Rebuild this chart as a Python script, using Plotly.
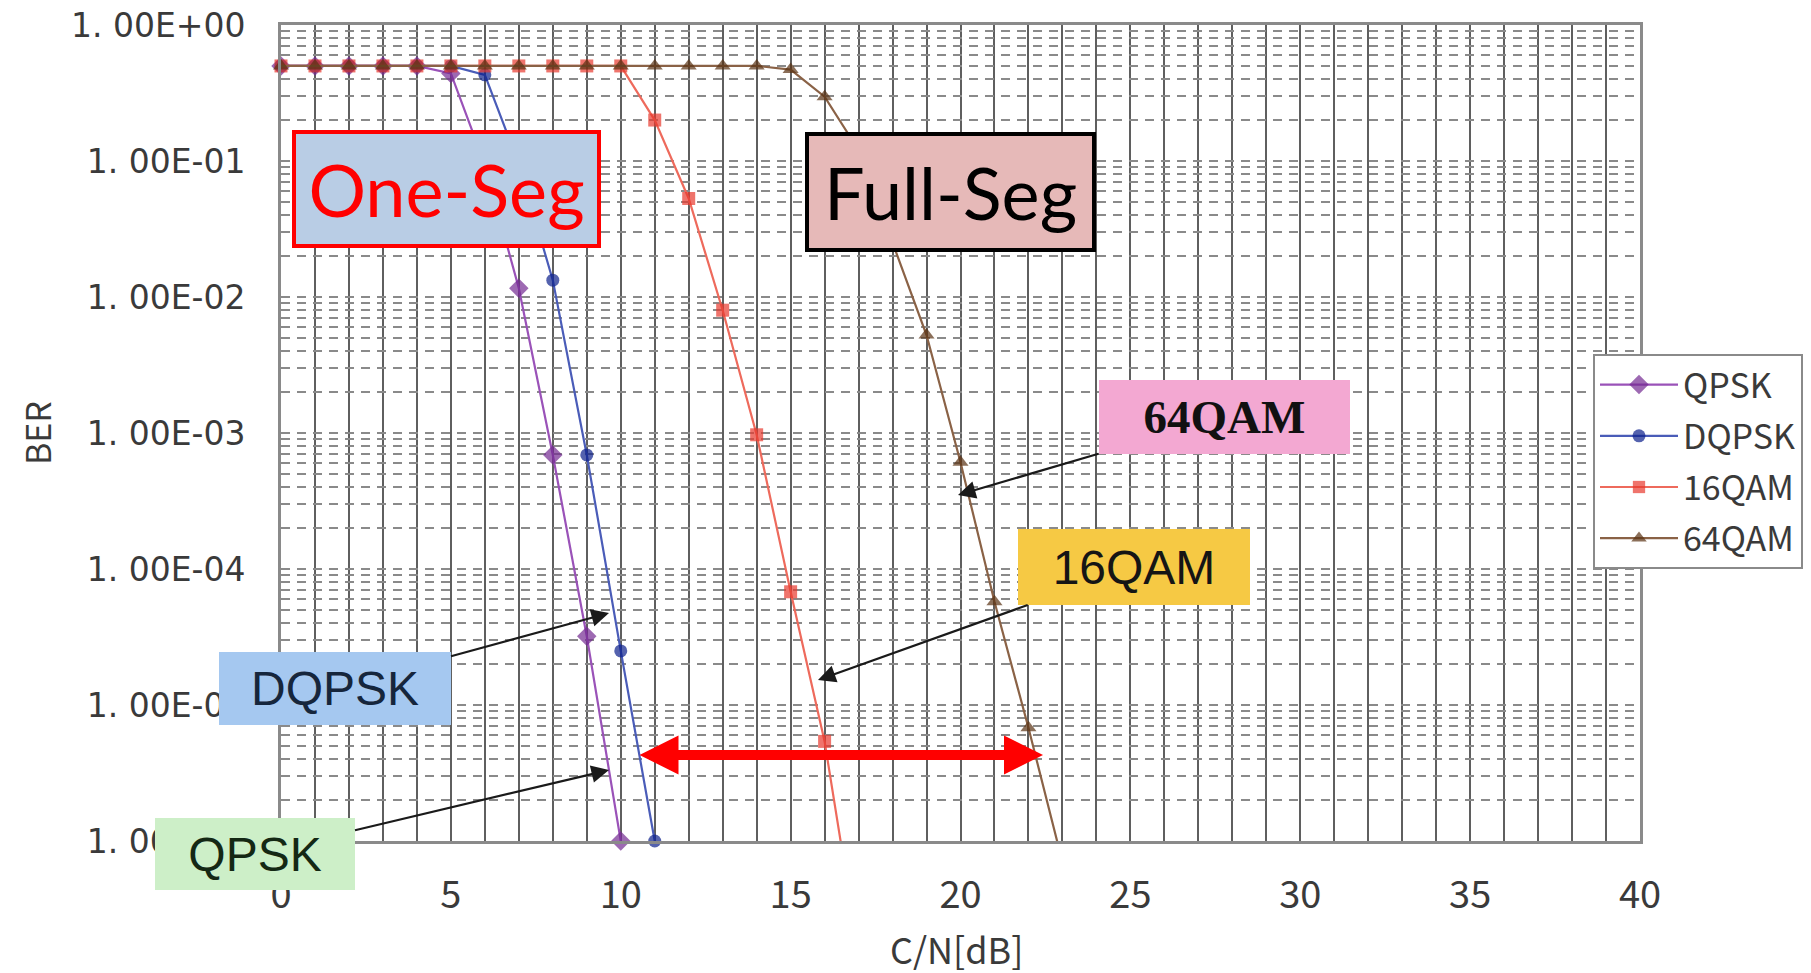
import plotly.graph_objects as go

# ---------------- data ----------------
qpsk_x = [0, 1, 2, 3, 4, 5, 6, 7, 8, 9, 10]
qpsk_ber = [0.5, 0.5, 0.5, 0.5, 0.5, 0.44, 0.094, 0.0116, 6.9e-4, 3.2e-5, 1.0e-6]

dqpsk_x = [0, 1, 2, 3, 4, 5, 6, 7, 8, 9, 10, 11]
dqpsk_ber = [0.5, 0.5, 0.5, 0.5, 0.5, 0.5, 0.43, 0.095, 0.0133, 6.9e-4, 2.5e-5, 1.0e-6]

qam16_x = [0, 1, 2, 3, 4, 5, 6, 7, 8, 9, 10, 11, 12, 13, 14, 15, 16, 17]
qam16_ber = [0.5, 0.5, 0.5, 0.5, 0.5, 0.5, 0.5, 0.5, 0.5, 0.5, 0.5,
             0.20, 0.053, 8.0e-3, 9.7e-4, 6.8e-5, 5.4e-6, 1.5e-7]

qam64_x = [0, 1, 2, 3, 4, 5, 6, 7, 8, 9, 10, 11, 12, 13, 14, 15, 16, 17, 18, 19, 20, 21, 22, 23]
qam64_ber = [0.5, 0.5, 0.5, 0.5, 0.5, 0.5, 0.5, 0.5, 0.5, 0.5, 0.5, 0.5, 0.5, 0.5, 0.5,
             0.47, 0.297, 0.12, 0.025, 5.25e-3, 6.1e-4, 5.75e-5, 6.8e-6, 7.0e-7]

series_names = ["QPSK", "DQPSK", "16QAM", "64QAM"]

x_tick_vals = [0, 5, 10, 15, 20, 25, 30, 35, 40]
x_tick_labels = ["0", "5", "10", "15", "20", "25", "30", "35", "40"]

y_decades = [1e-6, 1e-5, 1e-4, 1e-3, 1e-2, 1e-1, 1e0]
y_tick_labels = ["1. 00E-06", "1. 00E-05", "1. 00E-04", "1. 00E-03",
                 "1. 00E-02", "1. 00E-01", "1. 00E+00"]

x_title = "C/N[dB]"
y_title = "BER"

# ---------------- styling ----------------
GOTHIC = "Noto Sans CJK JP"
line_colors = ["#9a52b8", "#4a5cb8", "#ee6a5c", "#8a6246"]
marker_colors = ["#742a92", "#0b1f8c", "#e8392e", "#5a3212"]
marker_symbols = ["diamond", "circle", "square", "triangle-up"]
marker_sizes = [15, 13, 13, 14]

xs = [qpsk_x, dqpsk_x, qam16_x, qam64_x]
ys = [qpsk_ber, dqpsk_ber, qam16_ber, qam64_ber]
Y_MIN = y_decades[0]

fig = go.Figure()
for i, name in enumerate(series_names):
    # markers are not clipped at the frame; points below the axis floor get no marker
    sizes = [marker_sizes[i] if v >= Y_MIN * 0.999 else 0 for v in ys[i]]
    fig.add_trace(go.Scatter(
        x=xs[i], y=ys[i], name=name, mode="lines+markers",
        legendgroup="g%d" % i,
        line=dict(color=line_colors[i], width=2.2),
        marker=dict(symbol=marker_symbols[i], size=sizes,
                    color=marker_colors[i], line=dict(width=0)),
        cliponaxis=False,
    ))

# y ticks: a dashed grid line at every 1..9 x 10^n, labels at the decades
y_tick_vals, y_tick_text = [], []
for k, d in enumerate(y_decades):
    if k == len(y_decades) - 1:
        y_tick_vals.append(d)
        y_tick_text.append(y_tick_labels[k])
        break
    for m in range(1, 10):
        y_tick_vals.append(m * d)
        y_tick_text.append(y_tick_labels[k] if m == 1 else "")

# plot area in the reference's page pixels
PL, PR, PT, PB = 281, 1640, 25, 841
PAGE_W, PAGE_H = 1811, 973
OFF = 8                      # the page body margin
W, H = PAGE_W - OFF, PAGE_H - OFF


def dx(px):
    return (px - PL) / (PR - PL) * 40.0


def dy(py):
    return -(py - PT) / (PB - PT) * 6.0


def paper_x(px):
    return (px - PL) / (PR - PL)


def paper_y(py):
    return (PB - py) / (PB - PT)


x_tick_font = dict(family=GOTHIC, size=38, color="#3a3a3a")
y_tick_font = dict(family="DejaVu Sans", size=33, color="#3a3a3a")
GRID_V = "#5f5f5f"

fig.update_layout(
    width=W, height=H,
    margin=dict(l=PL - OFF, r=W - (PR - OFF), t=PT - OFF, b=H - (PB - OFF), pad=0,
                autoexpand=False),
    paper_bgcolor="white", plot_bgcolor="white",
    showlegend=True,
    legend=dict(x=paper_x(1593), xanchor="left",
                y=paper_y(354), yanchor="top",
                bgcolor="white", bordercolor="#8a8a8a", borderwidth=2,
                font=dict(family=GOTHIC, size=34, color="#3a3a3a"),
                itemwidth=78, traceorder="grouped", tracegroupgap=4),
    xaxis=dict(
        range=[0, 40], tickmode="array", tickvals=x_tick_vals, ticktext=x_tick_labels,
        showgrid=True, gridcolor=GRID_V, gridwidth=2.4,
        minor=dict(dtick=1, showgrid=True, gridcolor=GRID_V, gridwidth=2.4),
        showline=True, mirror=True, linecolor="#8a8a8a", linewidth=3,
        ticks="", tickfont=x_tick_font, ticklabelstandoff=18,
        ticklabeloverflow="allow", zeroline=False, automargin=False,
    ),
    yaxis=dict(
        type="log", range=[-6, 0], tickmode="array",
        tickvals=y_tick_vals, ticktext=y_tick_text,
        showgrid=True, gridcolor="#8a8a8a", gridwidth=2.2, griddash="9px,7px",
        showline=True, mirror=True, linecolor="#8a8a8a", linewidth=3,
        ticks="", tickfont=y_tick_font, ticklabelstandoff=26,
        ticklabeloverflow="allow", zeroline=False, automargin=False,
    ),
)

annotations = []

# Axis titles
annotations.append(dict(
    x=paper_x(956), y=paper_y(948), xref="paper", yref="paper", showarrow=False,
    text=x_title, font=dict(family=GOTHIC, size=36, color="#3a3a3a"),
    xanchor="center", yanchor="middle",
))
annotations.append(dict(
    x=paper_x(36), y=paper_y(433), xref="paper", yref="paper", showarrow=False,
    text=y_title, font=dict(family=GOTHIC, size=34, color="#3a3a3a"),
    textangle=-90, xanchor="center", yanchor="middle",
))

# Segment labels (boxes without arrows)
annotations.append(dict(
    x=dx(446.6), y=dy(189), xref="x", yref="y", showarrow=False,
    text="One-Seg", font=dict(family="Lato", size=72, color="#ff0000"),
    bgcolor="#b9cde5", bordercolor="#ff0000", borderwidth=4, borderpad=0,
    width=301, height=110, xanchor="center", yanchor="middle",
))
annotations.append(dict(
    x=dx(950.5), y=dy(192), xref="x", yref="y", showarrow=False,
    text="Full-Seg", font=dict(family="Lato", size=72, color="#000000"),
    bgcolor="#e6b9b8", bordercolor="#000000", borderwidth=4, borderpad=0,
    width=283, height=112, xanchor="center", yanchor="middle",
))

# Modulation labels with arrows pointing at their curves
arrow_style = dict(showarrow=True, arrowhead=2, arrowsize=1.6, arrowwidth=2.2,
                   arrowcolor="#1a1a1a", axref="pixel", ayref="pixel", borderpad=0)
labels = [
    # text, head px, box center px, box size, bg, font
    ("64QAM", (958, 495), (1224, 417), (251, 74), "#f3a8d2",
     dict(family="Liberation Serif", size=47, color="#111111", weight="bold")),
    ("16QAM", (818, 680), (1134, 567), (232, 76), "#f6c944",
     dict(family="Liberation Sans", size=48, color="#151515")),
    ("DQPSK", (609, 613), (335, 688), (232, 73), "#a5c8f0",
     dict(family="Liberation Sans", size=48, color="#16263c")),
    ("QPSK", (609, 770), (255, 854), (200, 72), "#cdefc8",
     dict(family="Liberation Sans", size=48, color="#142814")),
]
for text, head, center, size, bg, font in labels:
    a = dict(arrow_style)
    a.update(dict(
        x=dx(head[0]), y=dy(head[1]), xref="x", yref="y",
        ax=center[0] - head[0], ay=center[1] - head[1],
        text=text, font=font, bgcolor=bg, borderwidth=0,
        width=size[0], height=size[1],
    ))
    annotations.append(a)

# Red double-headed arrow between One-Seg and Full-Seg thresholds
annotations.append(dict(
    x=dx(1043), y=dy(755), ax=dx(638), ay=dy(755),
    xref="x", yref="y", axref="x", ayref="y",
    text="", showarrow=True, arrowside="end+start",
    arrowhead=2, startarrowhead=2, arrowsize=0.78, startarrowsize=0.78,
    arrowwidth=10, arrowcolor="#ff0000",
))

fig.update_layout(annotations=annotations)

fig.write_html("out.html")
